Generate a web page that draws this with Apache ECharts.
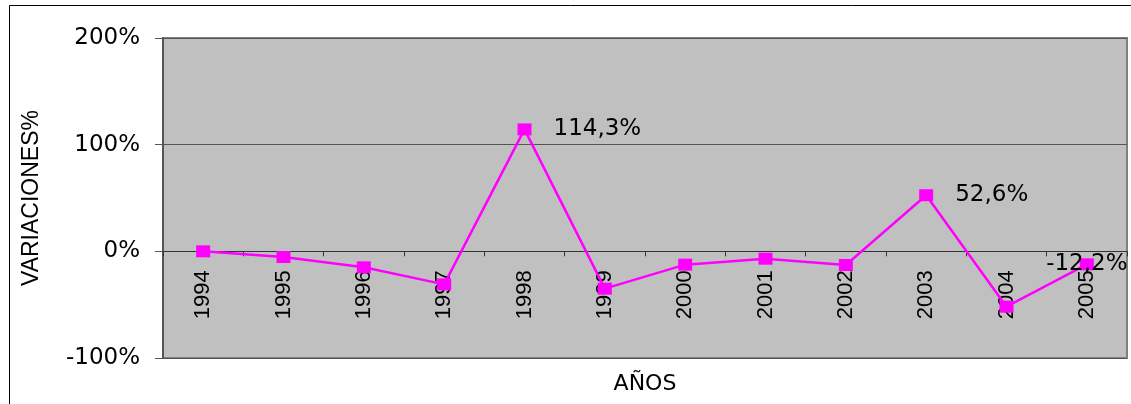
<!DOCTYPE html>
<html><head><meta charset="utf-8">
<script src="https://cdn.jsdelivr.net/npm/echarts@6/dist/echarts.min.js"></script>
<style>html,body{margin:0;padding:0;background:#fff}#c{width:1131px;height:404px}</style>
</head><body><div id="c"></div>
<script>
const years = ['1994','1995','1996','1997','1998','1999','2000','2001','2002','2003','2004','2005'];
const variaciones = [0, -5.3, -15, -31, 114.3, -35, -12.5, -6.9, -12.8, 52.6, -51.9, -12.2];
const labeledYears = ['1998','2003','2005'];
const yTicks = [-100, 0, 100, 200];

const gridTop = 38, gridBottom = 46, H = 404;
const plotH = H - gridTop - gridBottom;
const zeroOffset = -plotH * (0 - yTicks[0]) / (yTicks[yTicks.length-1] - yTicks[0]);

const chart = echarts.init(document.getElementById('c'), null, {renderer:'canvas'});
const fmt = v => v.toFixed(1).replace('.', ',') + '%';
const seriesData = variaciones.map((v, i) => {
  const item = {value: v};
  if (labeledYears.includes(years[i])) {
    const centered = years[i] === '2005';
    item.label = {
      show: true,
      position: centered ? 'inside' : 'right',
      distance: 22,
      formatter: p => fmt(p.value),
      color: '#000',
      fontFamily: 'DejaVu Sans',
      fontSize: 23
    };
  }
  return item;
});

chart.setOption({
  animation: false,
  backgroundColor: '#fff',
  grid: {left: 163, right: 4, top: gridTop, bottom: gridBottom, containLabel: false, outerBoundsMode: 'none', show: true, backgroundColor: '#C0C0C0', borderColor: '#808080', borderWidth: 2},
  graphic: [{type: 'rect', shape: {x: 9.5, y: 5.5, width: 1200, height: 500}, style: {fill: 'none', stroke: '#000', lineWidth: 1}, silent: true, z: -1}],
  xAxis: {
    type: 'category', data: years, boundaryGap: true, position: 'bottom', offset: zeroOffset,
    name: 'AÑOS', nameLocation: 'middle', nameGap: 122,
    nameTextStyle: {fontFamily: 'DejaVu Sans', fontSize: 22, color: '#000'},
    axisLine: {onZero: false, lineStyle: {color: '#333', width: 1}},
    axisTick: {show: true, length: 5, lineStyle: {color: '#333'}, alignWithLabel: false},
    axisLabel: {rotate: 90, margin: 19, fontFamily: 'Liberation Sans', fontSize: 22, color: '#000', interval: 0},
    splitLine: {show: false}
  },
  yAxis: {
    type: 'value', min: yTicks[0], max: yTicks[yTicks.length-1], interval: 100,
    name: 'VARIACIONES%', nameLocation: 'middle', nameGap: 120,
    nameTextStyle: {fontFamily: 'Liberation Sans', fontSize: 23, color: '#000'},
    axisLine: {show: true, lineStyle: {color: '#555', width: 2}},
    axisTick: {show: true, length: 8, inside: false, lineStyle: {color: '#555'}},
    axisLabel: {margin: 23, formatter: v => v + '%', fontFamily: 'DejaVu Sans', fontSize: 23, color: '#000'},
    splitLine: {show: true, lineStyle: {color: '#555', width: 1}}
  },
  series: [{
    type: 'line', data: seriesData,
    symbol: 'rect', symbolSize: [14, 12],
    itemStyle: {color: '#FF00FF'},
    lineStyle: {color: '#FF00FF', width: 2.5}
  }]
});
</script></body></html>
